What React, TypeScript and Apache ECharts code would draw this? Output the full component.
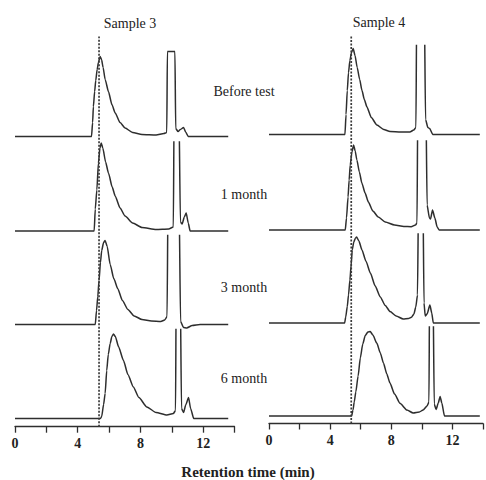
import React, { useEffect, useRef } from "react";
import * as echarts from "echarts";

// ---- data (retention time in min, detector signal in arbitrary units) ----
const sampleNames = ["Sample 3", "Sample 4"];
const conditions = ["Before test", "1 month", "3 month", "6 month"];
const xTickLabels = [0, 4, 8, 12];
const markerTimes = [5.36, 5.38];
const axisTitle = "Retention time (min)";

const s3Before = [[0,0],[4.88,0],[4.95,14],[5.0,30],[5.08,45],[5.15,56],[5.24,67],[5.32,74],[5.43,80],[5.52,77],[5.62,69],[5.75,57],[5.96,45],[6.18,32],[6.39,23.5],[6.7,14],[7.02,8.5],[7.5,4],[8.1,2],[9.0,1.5],[9.5,3],[9.68,4],[9.72,85],[10.2,85],[10.25,8],[10.4,5],[10.55,7],[10.75,9],[10.9,4],[11.05,0],[13.6,0]];
const s3Month1 = [[0,0],[5.05,0],[5.12,22],[5.22,41],[5.32,68],[5.42,83],[5.5,88],[5.6,83],[5.78,69],[5.96,58],[6.2,44],[6.39,35],[6.7,23],[7.02,15],[7.5,8],[8.1,3.5],[9.0,1.5],[9.8,2],[10.1,4],[10.15,130],[10.45,130],[10.55,9],[10.66,7],[10.8,14],[10.92,18],[11.05,8],[11.17,0],[13.6,0]];
const s3Month3 = [[0,0],[5.12,0],[5.2,14],[5.28,28],[5.36,44],[5.45,62],[5.53,74],[5.65,82],[5.75,84],[5.88,78],[6.07,60],[6.3,46],[6.55,36],[6.85,24],[7.2,15],[7.6,8.5],[8.1,5],[8.7,3.5],[9.3,3],[9.55,4.5],[9.7,8],[9.76,130],[10.46,130],[10.56,3],[10.75,-3],[10.95,-3.5],[11.3,-1],[11.8,0],[13.6,0]];
const s3Month6 = [[0,0],[5.45,0],[5.53,2],[5.65,14],[5.75,25],[5.85,48],[5.95,64],[6.07,75],[6.18,82],[6.28,84.5],[6.4,82],[6.6,72],[6.92,58],[7.2,44],[7.55,31.5],[7.9,21],[8.41,11.5],[9.0,6],[9.69,3.5],[10.1,5],[10.24,8],[10.28,130],[10.54,130],[10.62,10],[10.75,6],[10.9,14],[11.07,21],[11.2,10],[11.4,0],[13.6,0]];

const s4Before = [[0,0],[4.9,0],[4.97,20],[5.05,44],[5.13,62],[5.22,74],[5.32,82],[5.43,86],[5.55,79],[5.69,67],[5.85,55],[6.0,44],[6.15,35],[6.32,27.5],[6.6,17],[6.96,9.5],[7.4,5],[7.81,3],[8.5,2.5],[9.09,2.5],[9.34,4.5],[9.48,7],[9.53,130],[10.02,130],[10.1,15],[10.25,7],[10.36,6],[10.57,0],[13.6,0]];
const s4Month1 = [[0,0],[4.92,0],[5.0,12],[5.1,33],[5.17,50],[5.24,65],[5.35,78],[5.46,85],[5.56,79],[5.67,70],[5.83,58],[5.99,47],[6.2,37],[6.41,28],[6.7,19],[7.05,13],[7.5,8],[8.1,5],[8.7,3.5],[9.17,3.3],[9.45,5],[9.55,7],[9.6,130],[10.12,130],[10.2,25],[10.35,12],[10.42,11],[10.55,20],[10.7,12],[10.85,3],[10.98,0],[13.6,0]];
const s4Month3 = [[0,0],[4.88,0],[4.95,6],[5.05,16.5],[5.13,28],[5.22,43],[5.3,58],[5.37,73],[5.47,81],[5.58,85],[5.65,86],[5.8,82],[6.0,73],[6.25,62],[6.54,50],[6.85,37],[7.18,26],[7.5,17.5],[7.81,11.5],[8.2,7],[8.66,4],[9.0,4.5],[9.19,5.7],[9.35,9],[9.47,16],[9.58,28],[9.65,130],[9.93,130],[10.0,20],[10.08,7],[10.2,9],[10.38,18],[10.5,10],[10.6,0],[13.6,0]];
const s4Month6 = [[0,0],[5.33,0],[5.42,6],[5.5,14],[5.6,24],[5.75,40],[5.89,58],[6.05,72],[6.21,80.5],[6.38,84],[6.53,84.5],[6.7,81],[6.96,72.7],[7.18,63],[7.39,52.7],[7.6,42],[7.81,32.7],[8.1,22],[8.45,12.7],[8.9,6],[9.3,3],[9.7,4],[9.94,6],[10.2,10],[10.32,14],[10.36,130],[10.58,130],[10.66,12],[10.78,6.5],[10.92,13],[11.04,19.5],[11.15,13],[11.32,0],[13.6,0]];

const traces = [
  [s3Before, s3Month1, s3Month3, s3Month6],
  [s4Before, s4Month1, s4Month3, s4Month6],
];

// ---- layout ----
const PANEL_LEFT = [15, 269];
const PANEL_WIDTH = [219.5, 220];
const BASELINES = [
  [136.5, 231, 324.5, 418.5],
  [134.5, 230, 323, 416],
];
const AXIS_Y = [426.7, 423.5];
const MARKER_TOP = [36.5, 35];
const Y_MAX = 89;
const Y_MIN = -10;
const INK = "#2e2e2e";
const SERIF = "'Liberation Serif', 'DejaVu Serif', serif";

export default function App() {
  const ref = useRef<HTMLDivElement>(null);
  useEffect(() => {
    if (!ref.current) return;
    const chart = echarts.init(ref.current, undefined, { renderer: "svg" });
    const grid: any[] = [];
    const xAxis: any[] = [];
    const yAxis: any[] = [];
    const series: any[] = [];

    traces.forEach((panel, p) => {
      panel.forEach((data, k) => {
        const idx = grid.length;
        grid.push({
          left: PANEL_LEFT[p],
          width: PANEL_WIDTH[p],
          top: BASELINES[p][k] - Y_MAX,
          height: Y_MAX - Y_MIN,
        });
        xAxis.push({ gridIndex: idx, type: "value", min: 0, max: 14, show: false });
        yAxis.push({ gridIndex: idx, type: "value", min: Y_MIN, max: Y_MAX, show: false });
        series.push({
          type: "line",
          xAxisIndex: idx,
          yAxisIndex: idx,
          data,
          symbol: "none",
          smooth: 0.2,
          smoothMonotone: "x",
          clip: true,
          lineStyle: { color: INK, width: 1.5 },
          silent: true,
        });
      });
    });

    // marker grids with the visible time axes
    [0, 1].forEach((p) => {
      const idx = grid.length;
      grid.push({
        left: PANEL_LEFT[p],
        width: PANEL_WIDTH[p],
        top: MARKER_TOP[p],
        height: AXIS_Y[p] - MARKER_TOP[p],
      });
      xAxis.push({
        gridIndex: idx,
        type: "value",
        min: 0,
        max: 14,
        interval: 2,
        axisLine: { show: true, onZero: false, lineStyle: { color: INK, width: 1.3 } },
        axisTick: { show: true, length: 6, lineStyle: { color: INK, width: 1.3 } },
        splitLine: { show: false },
        axisLabel: {
          margin: 10,
          formatter: (v: number) => (xTickLabels.includes(v) ? String(v) : ""),
          fontFamily: SERIF,
          fontWeight: "bold",
          fontSize: 14,
          color: "#222",
        },
      });
      yAxis.push({ gridIndex: idx, type: "value", min: 0, max: 1, show: false });
      series.push({
        type: "line",
        xAxisIndex: idx,
        yAxisIndex: idx,
        data: [
          [markerTimes[p], 0],
          [markerTimes[p], 1],
        ],
        symbol: "none",
        lineStyle: { color: "#3a3a3a", width: 1.7, type: [2, 1.5] },
        silent: true,
      });
    });

    const txt = (text: string, x: number, y: number, size = 14, weight = "normal") => ({
      type: "text",
      x,
      y,
      silent: true,
      style: {
        text,
        fill: "#222",
        fontFamily: SERIF,
        fontSize: size,
        fontWeight: weight,
        align: "center",
        verticalAlign: "middle",
      },
    });

    const condY = [91, 194, 287, 378];
    const graphic = [
      txt(sampleNames[0], 130, 23),
      txt(sampleNames[1], 379, 22),
      ...conditions.map((c, i) => txt(c, 244, condY[i])),
      txt(axisTitle, 248, 472, 15, "bold"),
    ];

    chart.setOption({
      animation: false,
      backgroundColor: "#fff",
      grid,
      xAxis,
      yAxis,
      series,
      graphic,
    });
    return () => chart.dispose();
  }, []);
  return (
    <div
      ref={ref}
      style={{ position: "fixed", left: 0, top: 0, width: 486, height: 480 }}
    />
  );
}
